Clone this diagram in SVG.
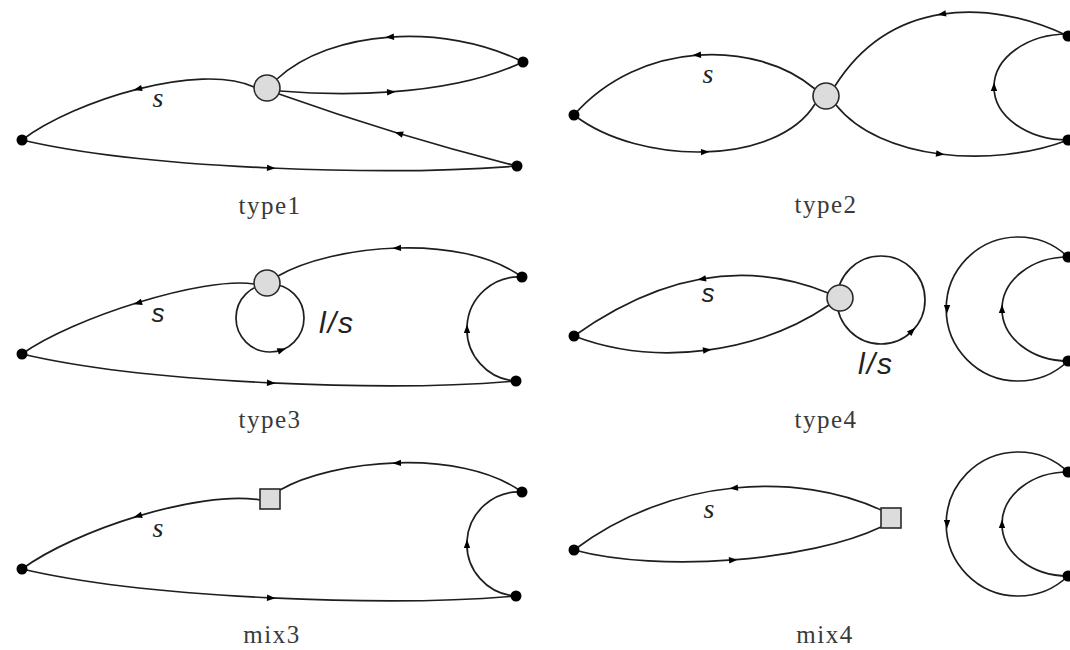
<svg xmlns="http://www.w3.org/2000/svg" xmlns:xlink="http://www.w3.org/1999/xlink" width="1070" height="650" viewBox="0 0 1070 650">
<defs>
<style>
.e{fill:none;stroke:#1e1e1e;stroke-width:1.7}
.dot{fill:#000}
.hub{fill:#dcdcdc;stroke:#2a2a2a;stroke-width:1.6}
.lbl{font-family:"Liberation Serif",serif;font-size:25px;fill:#3a3a3a;text-anchor:middle;letter-spacing:1.5px}
.si{font-family:"Liberation Serif",serif;font-style:italic;font-size:28px;fill:#222;text-anchor:middle}
.ss{font-family:"Liberation Sans",sans-serif;font-style:italic;font-size:26px;fill:#222;text-anchor:middle}
.ls{font-family:"Liberation Sans",sans-serif;font-style:italic;font-size:30px;fill:#222;letter-spacing:2px}
</style>
<polygon id="ah" points="4.5,0 -4,-3.2 -4,3.2" fill="#000"/>
</defs>
<rect width="1070" height="650" fill="#fff"/>

<g id="connectors">
<!-- type1 -->
<path class="e" d="M22 140 C75 100 200 62 254 87"/>
<use xlink:href="#ah" transform="translate(138 89) rotate(165.7)"/>
<path class="e" d="M523 62 C443 22 330 30 277 79"/>
<use xlink:href="#ah" transform="translate(390 37) rotate(176)"/>
<path class="e" d="M280 91 C330 95 445 99 523 62"/>
<use xlink:href="#ah" transform="translate(391 92) rotate(-4)"/>
<path class="e" d="M517 166 Q400 137 279 94"/>
<use xlink:href="#ah" transform="translate(399 133.5) rotate(196.8)"/>
<path class="e" d="M22 140 C150 170 393 176 517 166"/>
<use xlink:href="#ah" transform="translate(271 168) rotate(2.5)"/>
<!-- type2 -->
<path class="e" d="M574 115 C640 40 756 39 815 89"/>
<use xlink:href="#ah" transform="translate(697 55) rotate(175.7)"/>
<path class="e" d="M574 115 C640 166 777 166 815 104"/>
<use xlink:href="#ah" transform="translate(705 152) rotate(-1.7)"/>
<path class="e" d="M1068 36 C988 -2 890 -1 835 86"/>
<use xlink:href="#ah" transform="translate(942 14) rotate(171)"/>
<path class="e" d="M836 105 C880 160 992 169 1068 140"/>
<use xlink:href="#ah" transform="translate(940 154) rotate(7.3)"/>
<path class="e" d="M1068 140 A74 53 0 0 1 1068 34"/>
<use xlink:href="#ah" transform="translate(994 87) rotate(-90)"/>
<!-- type3 -->
<path class="e" d="M22 354 C72 318 204 276 254 284"/>
<use xlink:href="#ah" transform="translate(138 303) rotate(162.9)"/>
<circle class="e" cx="270" cy="318" r="34"/>
<use xlink:href="#ah" transform="translate(281.6 350) rotate(-20)"/>
<path class="e" d="M522 277 C460 232 332 245 278 276"/>
<use xlink:href="#ah" transform="translate(397 248) rotate(178)"/>
<path class="e" d="M516 381 A52 52 0 0 1 522 277"/>
<use xlink:href="#ah" transform="translate(467 329) rotate(-90)"/>
<path class="e" d="M22 354 C150 384 393 392 516 381"/>
<use xlink:href="#ah" transform="translate(271 383) rotate(2.7)"/>
<!-- type4 -->
<path class="e" d="M574 336 C660 275 745 259 828 293"/>
<use xlink:href="#ah" transform="translate(702 279) rotate(170)"/>
<path class="e" d="M574 336 C658 368 760 352 829 305"/>
<use xlink:href="#ah" transform="translate(707 350) rotate(-7.5)"/>
<circle class="e" cx="881" cy="300" r="44"/>
<use xlink:href="#ah" transform="translate(912 331) rotate(-45)"/>
<path class="e" d="M1068 257 A72 72 0 1 0 1068 361"/>
<use xlink:href="#ah" transform="translate(947 309) rotate(90)"/>
<path class="e" d="M1068 361 A66 52 0 0 1 1068 257"/>
<use xlink:href="#ah" transform="translate(1002 309) rotate(-90)"/>
<!-- mix3 -->
<path class="e" d="M22 569 C75 530 199 490 260 500"/>
<use xlink:href="#ah" transform="translate(138 516) rotate(163.2)"/>
<path class="e" d="M522 492 C460 447 331 460 280 490"/>
<use xlink:href="#ah" transform="translate(397 463) rotate(178.3)"/>
<path class="e" d="M516 596 A52 52 0 0 1 522 492"/>
<use xlink:href="#ah" transform="translate(467 544) rotate(-90)"/>
<path class="e" d="M22 569 C150 599 393 607 516 596"/>
<use xlink:href="#ah" transform="translate(271 598) rotate(2.7)"/>
<!-- mix4 -->
<path class="e" d="M574 550 C672 476 800 472 881 510"/>
<use xlink:href="#ah" transform="translate(734 488) rotate(174.2)"/>
<path class="e" d="M574 550 C660 573 810 561 881 527"/>
<use xlink:href="#ah" transform="translate(733 560) rotate(-4.4)"/>
<path class="e" d="M1068 472 A72 72 0 1 0 1068 576"/>
<use xlink:href="#ah" transform="translate(947 524) rotate(90)"/>
<path class="e" d="M1068 576 A66 52 0 0 1 1068 472"/>
<use xlink:href="#ah" transform="translate(1002 524) rotate(-90)"/>
</g>

<!-- type1 nodes -->
<g id="t1-left"><circle class="dot" cx="22" cy="140" r="5.5"/></g>
<g id="t1-hub"><circle class="hub" cx="267" cy="88" r="13"/></g>
<g id="t1-tr"><circle class="dot" cx="523" cy="62" r="5.5"/></g>
<g id="t1-br"><circle class="dot" cx="517" cy="166" r="5.5"/></g>
<!-- type2 nodes -->
<g id="t2-left"><circle class="dot" cx="574" cy="115" r="5.5"/></g>
<g id="t2-hub"><circle class="hub" cx="826" cy="96" r="13"/></g>
<g id="t2-tr"><circle class="dot" cx="1068" cy="36" r="5.5"/></g>
<g id="t2-br"><circle class="dot" cx="1068" cy="140" r="5.5"/></g>
<!-- type3 nodes -->
<g id="t3-left"><circle class="dot" cx="22" cy="354" r="5.5"/></g>
<g id="t3-hub"><circle class="hub" cx="267" cy="283" r="13"/></g>
<g id="t3-tr"><circle class="dot" cx="522" cy="277" r="5.5"/></g>
<g id="t3-br"><circle class="dot" cx="516" cy="381" r="5.5"/></g>
<!-- type4 nodes -->
<g id="t4-left"><circle class="dot" cx="574" cy="336" r="5.5"/></g>
<g id="t4-hub"><circle class="hub" cx="840" cy="298" r="13"/></g>
<g id="t4-tr"><circle class="dot" cx="1068" cy="257" r="5.5"/></g>
<g id="t4-br"><circle class="dot" cx="1068" cy="361" r="5.5"/></g>
<!-- mix3 nodes -->
<g id="m3-left"><circle class="dot" cx="22" cy="569" r="5.5"/></g>
<g id="m3-hub"><rect class="hub" x="260" y="489" width="20" height="20"/></g>
<g id="m3-tr"><circle class="dot" cx="522" cy="492" r="5.5"/></g>
<g id="m3-br"><circle class="dot" cx="516" cy="596" r="5.5"/></g>
<!-- mix4 nodes -->
<g id="m4-left"><circle class="dot" cx="574" cy="550" r="5.5"/></g>
<g id="m4-hub"><rect class="hub" x="881" y="508" width="20" height="20"/></g>
<g id="m4-tr"><circle class="dot" cx="1068" cy="472" r="5.5"/></g>
<g id="m4-br"><circle class="dot" cx="1068" cy="576" r="5.5"/></g>

<g id="labels">
<text class="si" x="158" y="107">s</text>
<text class="si" x="708" y="83">s</text>
<text class="ss" x="158" y="322">s</text>
<text class="ls" x="319" y="333">l/s</text>
<text class="ss" x="708" y="302">s</text>
<text class="ls" x="858" y="374">l/s</text>
<text class="si" x="158" y="537">s</text>
<text class="si" x="709" y="518">s</text>
<text class="lbl" x="270" y="214">type1</text>
<text class="lbl" x="826" y="213">type2</text>
<text class="lbl" x="270" y="428">type3</text>
<text class="lbl" x="826" y="428">type4</text>
<text class="lbl" x="272" y="643">mix3</text>
<text class="lbl" x="825" y="643">mix4</text>
</g>
</svg>
